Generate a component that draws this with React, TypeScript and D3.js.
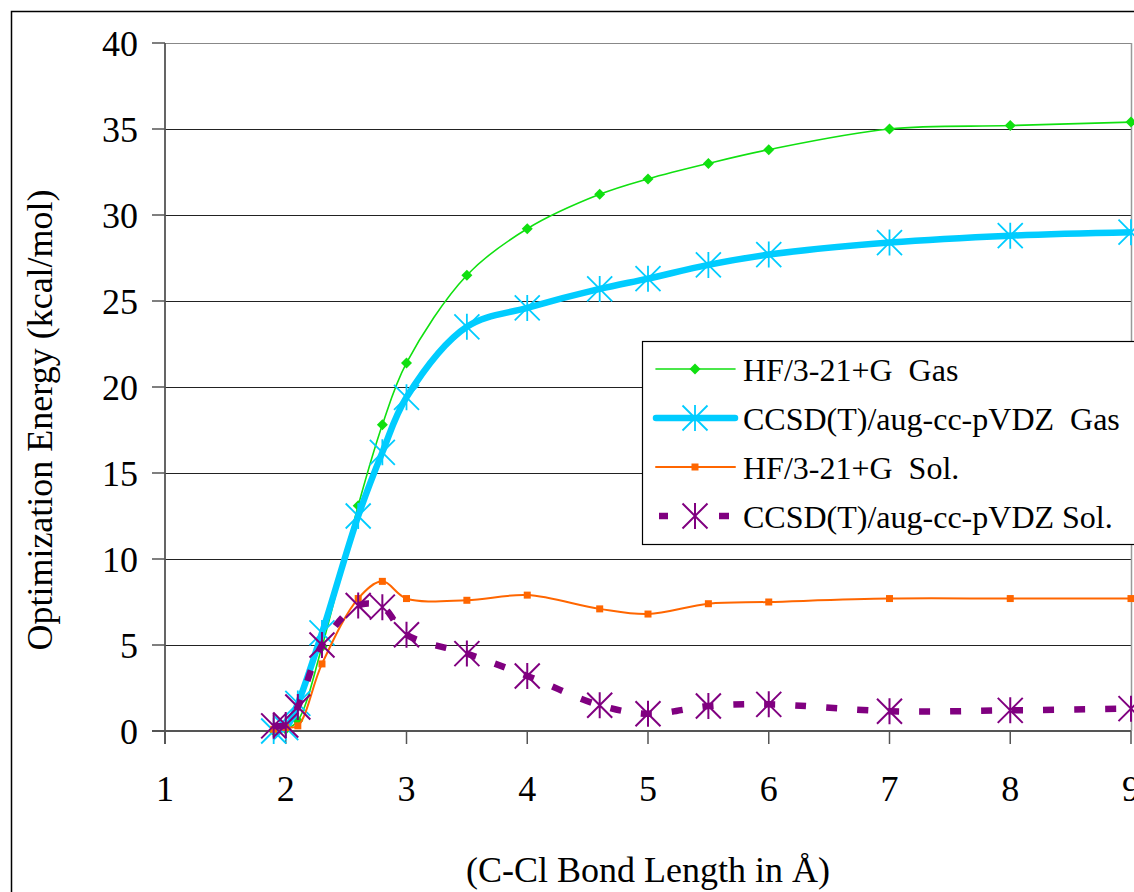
import React from "react";
import * as d3 from "d3";

// C–Cl bond length (Å) at which each energy was computed
const bondLength = [1.9, 2.0, 2.1, 2.3, 2.6, 2.8, 3.0, 3.5, 4.0, 4.6, 5.0, 5.5, 6.0, 7.0, 8.0, 9.0];

// Optimization energies, kcal/mol
const hfGas = [0, 0.1, 0.6, 4.9, 13.1, 17.8, 21.4, 26.5, 29.2, 31.2, 32.1, 33.0, 33.8, 35.0, 35.2, 35.4];
const ccsdGas = [0, 0.2, 1.6, 5.7, 12.5, 16.2, 19.4, 23.5, 24.6, 25.7, 26.3, 27.1, 27.7, 28.4, 28.8, 29.0];
const hfSol = [0.1, 0.2, 0.3, 3.9, 7.7, 8.7, 7.7, 7.6, 7.9, 7.1, 6.8, 7.4, 7.5, 7.7, 7.7, 7.7];
const ccsdSol = [0.3, 0.35, 1.4, 5.0, 7.3, 7.2, 5.6, 4.5, 3.2, 1.5, 1.0, 1.45, 1.55, 1.15, 1.2, 1.3];

const xTicks = [1, 2, 3, 4, 5, 6, 7, 8, 9];
const yTicks = [0, 5, 10, 15, 20, 25, 30, 35, 40];

const seriesNames = [
  "HF/3-21+G  Gas",
  "CCSD(T)/aug-cc-pVDZ  Gas",
  "HF/3-21+G  Sol.",
  "CCSD(T)/aug-cc-pVDZ Sol.",
];

type Marker = "diamond" | "star" | "square";
type Series = {
  name: string;
  values: number[];
  color: string;
  width: number;
  dash?: string;
  marker: Marker;
  markerWidth: number;
};

const series: Series[] = [
  { name: seriesNames[0], values: hfGas, color: "#10e010", width: 1.6, marker: "diamond", markerWidth: 0 },
  { name: seriesNames[1], values: ccsdGas, color: "#00ccff", width: 6.5, marker: "star", markerWidth: 1.8 },
  { name: seriesNames[2], values: hfSol, color: "#ff6600", width: 2, marker: "square", markerWidth: 0 },
  { name: seriesNames[3], values: ccsdSol, color: "#800080", width: 6.5, dash: "11,20", marker: "star", markerWidth: 2 },
];

const FONT = "Liberation Serif, DejaVu Serif, Noto Serif, serif";
const textStyle: React.CSSProperties = { fontFamily: FONT, whiteSpace: "pre" };

function MarkerShape({ kind, x, y, color, sw }: { kind: Marker; x: number; y: number; color: string; sw: number }) {
  if (kind === "diamond") {
    const r = 5.5;
    return <path d={`M${x},${y - r}L${x + r},${y}L${x},${y + r}L${x - r},${y}Z`} fill={color} />;
  }
  if (kind === "square") {
    const s = 7;
    return <rect x={x - s / 2} y={y - s / 2} width={s} height={s} fill={color} />;
  }
  const a = 12.5;
  const v = 13;
  return (
    <path
      d={`M${x - a},${y - a}L${x + a},${y + a}M${x - a},${y + a}L${x + a},${y - a}M${x},${y - v}L${x},${y + v}`}
      stroke={color}
      strokeWidth={sw}
      fill="none"
    />
  );
}

export default function App() {
  const x = d3.scaleLinear().domain([1, 9]).range([165, 1131]);
  const y = d3.scaleLinear().domain([0, 40]).range([731, 43]);

  const line = d3
    .line<number>()
    .x((_, i) => x(bondLength[i]))
    .y((d) => y(d))
    .curve(d3.curveCatmullRom.alpha(0.5));

  const legendX = 642;
  const legendRows = [369, 418, 467, 516];

  return (
    <svg
      width={1134}
      height={892}
      style={{ position: "absolute", left: 0, top: 0, background: "#fff", fontFamily: FONT }}
    >
      <rect x={0} y={0} width={1134} height={892} fill="#fff" />
      {/* outer chart frame */}
      <rect x={11.5} y={11.5} width={1200} height={1000} fill="none" stroke="#000" strokeWidth={1.5} />

      {/* horizontal gridlines */}
      {yTicks.slice(1).map((t) => (
        <line
          key={`g${t}`}
          x1={x(1)}
          x2={x(9)}
          y1={y(t) + 0.5}
          y2={y(t) + 0.5}
          stroke={t === 40 ? "#888" : "#222"}
          strokeWidth={1}
        />
      ))}
      {/* plot right border */}
      <line x1={x(9) + 0.5} x2={x(9) + 0.5} y1={y(40)} y2={y(0)} stroke="#999" strokeWidth={1.5} />

      {/* axes */}
      <line x1={x(1)} x2={x(1)} y1={y(40)} y2={y(0) + 13} stroke="#555" strokeWidth={1.8} />
      <line x1={x(1) - 13} x2={x(9)} y1={y(0)} y2={y(0)} stroke="#555" strokeWidth={2.2} />
      {yTicks.map((t) => (
        <g key={`yt${t}`}>
          <line x1={x(1) - 13} x2={x(1)} y1={y(t)} y2={y(t)} stroke="#555" strokeWidth={1.5} />
          <text x={138} y={y(t) + 13} textAnchor="end" fontSize={36} fill="#000" style={textStyle}>
            {t}
          </text>
        </g>
      ))}
      {xTicks.map((t) => (
        <g key={`xt${t}`}>
          <line x1={x(t)} x2={x(t)} y1={y(0)} y2={y(0) + 13} stroke="#555" strokeWidth={1.5} />
          <text x={x(t)} y={801} textAnchor="middle" fontSize={36} fill="#000" style={textStyle}>
            {t}
          </text>
        </g>
      ))}

      {/* axis titles */}
      <text x={648} y={882} textAnchor="middle" fontSize={36} fill="#000" style={textStyle}>
        (C-Cl Bond Length in Å)
      </text>
      <text
        transform="translate(52,420) rotate(-90)"
        textAnchor="middle"
        fontSize={36}
        fill="#000"
        style={textStyle}
      >
        Optimization Energy (kcal/mol)
      </text>

      {/* series */}
      {series.map((s) => (
        <g key={s.name}>
          <path
            d={line(s.values) || ""}
            fill="none"
            stroke={s.color}
            strokeWidth={s.width}
            strokeDasharray={s.dash}
            strokeLinejoin="round"
          />
          {s.values.map((v, i) => (
            <MarkerShape key={i} kind={s.marker} x={x(bondLength[i])} y={y(v)} color={s.color} sw={s.markerWidth} />
          ))}
        </g>
      ))}

      {/* legend */}
      <rect x={legendX + 0.5} y={341.5} width={600} height={203} fill="#fff" stroke="#000" strokeWidth={1.2} />
      {series.map((s, i) => {
        const cy = legendRows[i];
        return (
          <g key={`lg${i}`}>
            {s.dash ? (
              <>
                <line x1={659} x2={668} y1={cy} y2={cy} stroke={s.color} strokeWidth={s.width} />
                <line x1={719} x2={729} y1={cy} y2={cy} stroke={s.color} strokeWidth={s.width} />
              </>
            ) : (
              <line x1={656} x2={735} y1={cy} y2={cy} stroke={s.color} strokeWidth={s.width} strokeLinecap="round" />
            )}
            <MarkerShape kind={s.marker} x={695} y={cy} color={s.color} sw={s.markerWidth} />
            <text x={743} y={cy + 12} fontSize={32} fill="#000" style={textStyle}>
              {s.name}
            </text>
          </g>
        );
      })}
    </svg>
  );
}
